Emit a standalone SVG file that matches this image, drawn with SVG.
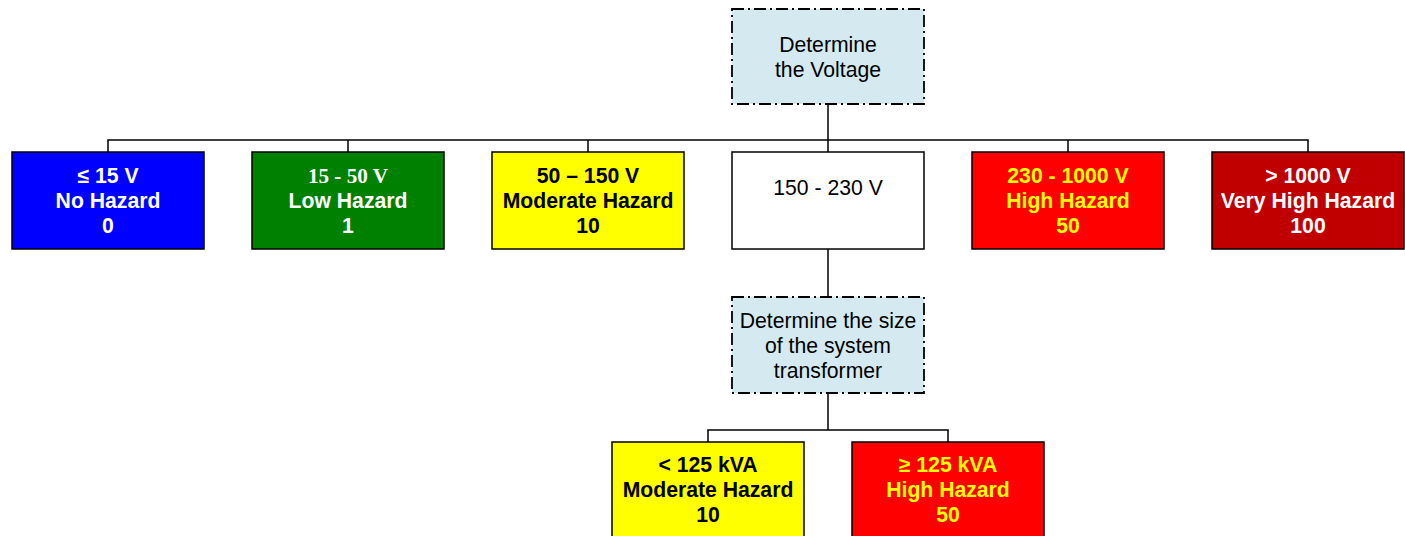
<svg xmlns="http://www.w3.org/2000/svg" width="1405" height="536" viewBox="0 0 1405 536">
<style>
.box{stroke:#000;stroke-width:1.5}
.dec{fill:#d4eaf0;stroke:#000;stroke-width:1.8;stroke-dasharray:12 4 2 4}
text{font-family:"Liberation Sans",Arial,sans-serif;font-size:21.2px;text-anchor:middle}
.b{font-weight:bold}
.w{fill:#fff}.k{fill:#000}.y{fill:#ffff00}
.conn{stroke:#000;stroke-width:1.5;fill:none}
</style>
<g id="connectors">
<path class="conn" d="M828 104V140M108 152V140H1308V152M348 140V152M588 140V152M828 140V152M1068 140V152"/>
<path class="conn" d="M828 249V297M828 393V430M708 442V430H948V442"/>
</g>
<g id="determine-voltage">
<rect class="dec" x="732" y="9" width="192" height="95"/>
<text x="828" y="52" class="k">Determine</text>
<text x="828" y="77" class="k">the Voltage</text>
</g>
<g id="v15">
<rect class="box" x="12" y="152" width="192" height="97" fill="#0000ff"/>
<text x="108" y="183" class="b w">≤ 15 V</text>
<text x="108" y="208" class="b w">No Hazard</text>
<text x="108" y="233" class="b w">0</text>
</g>
<g id="v15-50">
<rect class="box" x="252" y="152" width="192" height="97" fill="#008000"/>
<text x="348" y="183" class="b w" style="font-family:'Liberation Serif','Times New Roman',serif">15 - 50 V</text>
<text x="348" y="208" class="b w">Low Hazard</text>
<text x="348" y="233" class="b w">1</text>
</g>
<g id="v50-150">
<rect class="box" x="492" y="152" width="192" height="97" fill="#ffff00"/>
<text x="588" y="183" class="b k">50 – 150 V</text>
<text x="588" y="208" class="b k">Moderate Hazard</text>
<text x="588" y="233" class="b k">10</text>
</g>
<g id="v150-230">
<rect class="box" x="732" y="152" width="192" height="97" fill="#fff"/>
<text x="828" y="195" class="k">150 - 230 V</text>
</g>
<g id="v230-1000">
<rect class="box" x="972" y="152" width="192" height="97" fill="#ff0000"/>
<text x="1068" y="183" class="b y">230 - 1000 V</text>
<text x="1068" y="208" class="b y">High Hazard</text>
<text x="1068" y="233" class="b y">50</text>
</g>
<g id="v1000">
<rect class="box" x="1212" y="152" width="192" height="97" fill="#c00000"/>
<text x="1308" y="183" class="b w">&gt; 1000 V</text>
<text x="1308" y="208" class="b w">Very High Hazard</text>
<text x="1308" y="233" class="b w">100</text>
</g>
<g id="determine-size">
<rect class="dec" x="732" y="297" width="192" height="96"/>
<text x="828" y="328" class="k">Determine the size</text>
<text x="828" y="353" class="k">of the system</text>
<text x="828" y="378" class="k">transformer</text>
</g>
<g id="kva-low">
<rect class="box" x="612" y="442" width="192" height="100" fill="#ffff00"/>
<text x="708" y="472" class="b k">&lt; 125 kVA</text>
<text x="708" y="497" class="b k">Moderate Hazard</text>
<text x="708" y="522" class="b k">10</text>
</g>
<g id="kva-high">
<rect class="box" x="852" y="442" width="192" height="100" fill="#ff0000"/>
<text x="948" y="472" class="b y">≥ 125 kVA</text>
<text x="948" y="497" class="b y">High Hazard</text>
<text x="948" y="522" class="b y">50</text>
</g>
</svg>
